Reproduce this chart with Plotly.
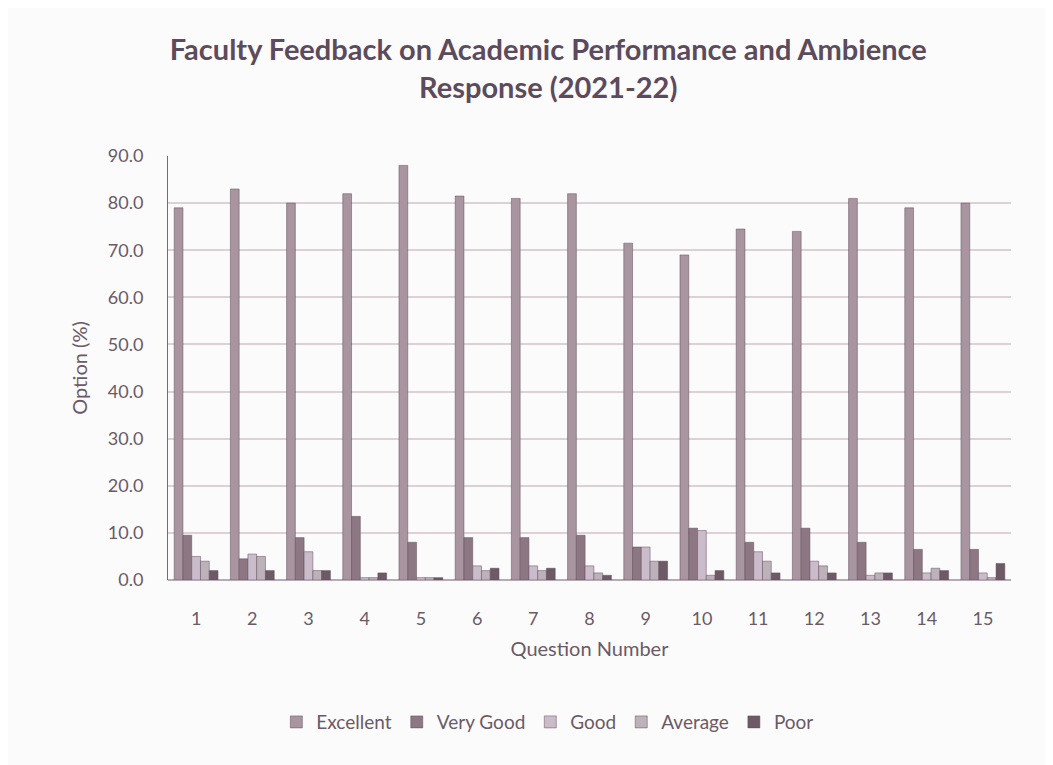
import plotly.graph_objects as go

questions = [str(i) for i in range(1, 16)]
excellent = [79.0, 83.0, 80.0, 82.0, 88.0, 81.5, 81.0, 82.0, 71.5, 69.0, 74.5, 74.0, 81.0, 79.0, 80.0]
very_good = [9.5, 4.5, 9.0, 13.5, 8.0, 9.0, 9.0, 9.5, 7.0, 11.0, 8.0, 11.0, 8.0, 6.5, 6.5]
good = [5.0, 5.5, 6.0, 0.5, 0.5, 3.0, 3.0, 3.0, 7.0, 10.5, 6.0, 4.0, 1.0, 1.5, 1.5]
average = [4.0, 5.0, 2.0, 0.5, 0.5, 2.0, 2.0, 1.5, 4.0, 1.0, 4.0, 3.0, 1.5, 2.5, 0.5]
poor = [2.0, 2.0, 2.0, 1.5, 0.5, 2.5, 2.5, 1.0, 4.0, 2.0, 1.5, 1.5, 1.5, 2.0, 3.5]

series = [
    ("Excellent", excellent, "#a8959f"),
    ("Very Good", very_good, "#8c7783"),
    ("Good", good, "#cbbccb"),
    ("Average", average, "#bdb2ba"),
    ("Poor", poor, "#6d5a66"),
]

fig = go.Figure()
for name, vals, col in series:
    fig.add_trace(go.Bar(
        x=questions, y=vals, name=name,
        marker=dict(color=col, line=dict(color="#5e4c58", width=0.5)),
    ))

font_family = "Lato, 'Open Sans', sans-serif"
fig.update_layout(
    width=1053, height=765,
    paper_bgcolor="#fcfbfc", plot_bgcolor="#fcfbfc",
    barmode="group", bargap=0.22, bargroupgap=0.0,
    margin=dict(l=160, r=50, t=148, b=193),
    title=dict(
        text="<b>Faculty Feedback on Academic Performance and Ambience<br>Response (2021-22)</b>",
        x=0.513, xanchor="center", y=0.932, yanchor="middle",
        font=dict(family=font_family, size=29, color="#5c4b5c"),
    ),
    font=dict(family=font_family, color="#6a5a66"),
    legend=dict(
        orientation="h", x=0.45, xanchor="center", y=-0.335, yanchor="middle",
        font=dict(size=19, color="#6a5a66"), traceorder="normal",
    ),
    xaxis=dict(
        title=dict(text="Question Number", font=dict(size=20, color="#6a5a66"), standoff=14),
        tickfont=dict(size=18, color="#6a5a66"),
        showgrid=False, showline=False,
        ticks="outside", ticklen=22, tickcolor="rgba(0,0,0,0)",
    ),
    yaxis=dict(
        title=dict(text="Option (%)", font=dict(size=20, color="#6a5a66"), standoff=14),
        range=[0, 90], dtick=10, tickformat=".1f",
        tickfont=dict(size=18, color="#6a5a66"),
        ticks="outside", ticklen=20, tickcolor="rgba(0,0,0,0)",
        showgrid=True, gridcolor="#ddd0d6", gridwidth=1.5,
        showline=True, linecolor="#7a6a76", linewidth=1,
        zeroline=True, zerolinecolor="#b8aab4",
    ),
)

fig.write_html("out.html")
